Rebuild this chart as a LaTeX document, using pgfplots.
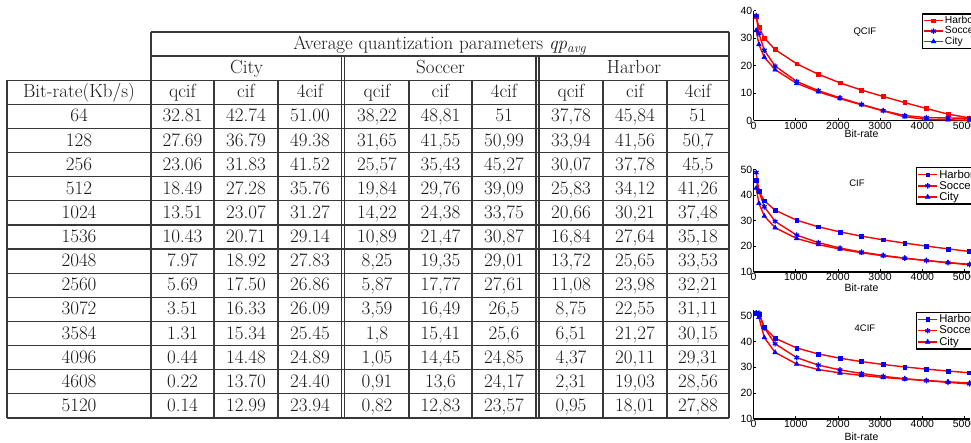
\documentclass[border=0pt]{standalone}
\usepackage{fontspec}
\usepackage{pgfplots}
\pgfplotsset{compat=1.18}
\newfontfamily\plotfont{Liberation Sans}
\newcounter{rk}
\newcommand\R[9]{\stepcounter{rk}\pgfmathsetmacro\yb{345.2-24.125*\the\value{rk}}%
 \node[tab] at (79,\yb) {#1};
 \node[tab] at (182.5,\yb) {#2};
 \node[tab] at (246,\yb) {#3};
 \node[tab] at (310,\yb) {#4};
 \node[tab] at (377,\yb) {#5};
 \node[tab] at (440.5,\yb) {#6};
 \node[tab] at (504,\yb) {#7};
 \node[tab] at (571,\yb) {#8};
 \node[tab] at (635,\yb) {#9};
 \Rx}
\newcommand\Rx[1]{\node[tab] at (698,\yb) {#1};}

\pgfplotsset{mini/.style={
  scale only axis, width=216.1pt, xmin=0, xmax=5120,
  axis lines*=left, axis line style={line width=1.1pt, black},
  tick align=inside, major tick length=2.5pt, tick style={line width=0.8pt, black},
  xtick={0,1000,...,5000}, clip=false,
  tick label style={font=\plotfont\fontsize{10.5}{10.5}\selectfont},
  /pgf/number format/assume math mode=true,
  /pgf/number format/set thousands separator={},
  scaled x ticks=false,
  xticklabel style={inner sep=1pt},
  yticklabel style={inner sep=1pt},
  xlabel={Bit-rate},
  legend cell align=left,
  legend image code/.code={\draw[mark repeat=2, mark phase=2, ##1] plot coordinates {(0pt,0pt) (9.5pt,0pt) (19pt,0pt)};},
 },
 ln/.style={red, line width=1.4pt},
 hb/.style={ln, mark=square*, mark size=1.9pt, mark options={solid, #1, fill=#1, line width=0.5pt}},
 sc/.style={ln, mark=asterisk, mark size=2.7pt, mark options={solid, blue, line width=1.2pt}},
 ct/.style={ln, mark=triangle*, mark size=2.7pt, mark options={solid, blue, fill=blue, line width=0.5pt}},
}

\begin{document}
\begin{tikzpicture}[x=1pt,y=1pt,
  tab/.style={anchor=base, inner sep=0pt, font=\fontsize{19}{22}\selectfont, text=black!90},
  tl/.style={line width=1.2pt, black!78}]
\useasboundingbox (0,0) rectangle (971,443);

% ---------- table ----------
\draw[tl] (151,411) -- (729,411);
\draw[tl] (151,386.9) -- (729,386.9);
\draw[tl] (7,362.8) -- (729,362.8);
\foreach \k in {0,...,13} {\draw[tl] (7,{338.7-24.125*\k}) -- (729,{338.7-24.125*\k});}
\draw[tl] (151,411) -- (151,25.1);
\draw[tl] (729,411) -- (729,25.1);
\draw[tl] (7,362.8) -- (7,25.1);
\foreach \x in {214,278,409,472,603,667} {\draw[tl] (\x,362.8) -- (\x,25.1);}
\foreach \x in {341.5,344.5,536,539} {\draw[tl] (\x,386.9) -- (\x,25.1);}

\node[tab] at (440,393.4) {Average quantization parameters \textit{qp}\textsubscript{\textit{avg}}};
\node[tab] at (246.5,369.3) {City};
\node[tab] at (440.5,369.3) {Soccer};
\node[tab] at (634,369.3) {Harbor};
\node[tab] at (79,345.2) {Bit-rate(Kb/s)};
\foreach \x/\t in {182.5/qcif,246/cif,310/4cif,377/qcif,440.5/cif,504/4cif,571/qcif,635/cif,698/4cif}
  {\node[tab] at (\x,345.2) {\t};}

\R{64}{32.81}{42.74}{51.00}{38,22}{48,81}{51}{37,78}{45,84}{51}
\R{128}{27.69}{36.79}{49.38}{31,65}{41,55}{50,99}{33,94}{41,56}{50,7}
\R{256}{23.06}{31.83}{41.52}{25,57}{35,43}{45,27}{30,07}{37,78}{45,5}
\R{512}{18.49}{27.28}{35.76}{19,84}{29,76}{39,09}{25,83}{34,12}{41,26}
\R{1024}{13.51}{23.07}{31.27}{14,22}{24,38}{33,75}{20,66}{30,21}{37,48}
\R{1536}{10.43}{20.71}{29.14}{10,89}{21,47}{30,87}{16,84}{27,64}{35,18}
\R{2048}{7.97}{18.92}{27.83}{8,25}{19,35}{29,01}{13,72}{25,65}{33,53}
\R{2560}{5.69}{17.50}{26.86}{5,87}{17,77}{27,61}{11,08}{23,98}{32,21}
\R{3072}{3.51}{16.33}{26.09}{3,59}{16,49}{26,5}{8,75}{22,55}{31,11}
\R{3584}{1.31}{15.34}{25.45}{1,8}{15,41}{25,6}{6,51}{21,27}{30,15}
\R{4096}{0.44}{14.48}{24.89}{1,05}{14,45}{24,85}{4,37}{20,11}{29,31}
\R{4608}{0.22}{13.70}{24.40}{0,91}{13,6}{24,17}{2,31}{19,03}{28,56}
\R{5120}{0.14}{12.99}{23.94}{0,82}{12,83}{23,57}{0,95}{18,01}{27,88}

% ---------- QCIF ----------
\begin{axis}[mini, at={(753.5pt,322.5pt)}, anchor=south west, height=109.8pt,
  ymin=0, ymax=40, ytick={0,10,...,40},
  xlabel style={font=\plotfont\fontsize{10.5}{10.5}\selectfont, at={(axis description cs:0.5,0)}, anchor=center, yshift=-13.5pt},
  legend style={at={(axis description cs:0.778,0.976)}, anchor=north west, draw=black, line width=1.4pt,
    font=\plotfont\fontsize{10.3}{10.3}\selectfont, inner sep=1pt, row sep=-0.8pt, nodes={inner sep=1.2pt}}]
\addplot[hb=red] coordinates {(64,37.78) (128,33.94) (256,30.07) (512,25.83) (1024,20.66) (1536,16.84) (2048,13.72) (2560,11.08) (3072,8.75) (3584,6.51) (4096,4.37) (4608,2.31) (5120,0.95)};
\addplot[sc] coordinates {(64,38.22) (128,31.65) (256,25.57) (512,19.84) (1024,14.22) (1536,10.89) (2048,8.25) (2560,5.87) (3072,3.59) (3584,1.8) (4096,1.05) (4608,0.91) (5120,0.82)};
\addplot[ct] coordinates {(64,32.81) (128,27.69) (256,23.06) (512,18.49) (1024,13.51) (1536,10.43) (2048,7.97) (2560,5.69) (3072,3.51) (3584,1.31) (4096,0.44) (4608,0.22) (5120,0.14)};
\legend{Harbor,Soccer,City}
\node[font=\plotfont\fontsize{9.5}{9.5}\selectfont] at (axis cs:2640,32.2) {QCIF};
\end{axis}

% ---------- CIF ----------
\begin{axis}[mini, at={(753.5pt,171pt)}, anchor=south west, height=102.5pt,
  ymin=10, ymax=50, ytick={10,20,...,50},
  xlabel style={font=\plotfont\fontsize{10.5}{10.5}\selectfont, at={(axis description cs:0.5,0)}, anchor=center, yshift=-15.5pt},
  legend style={at={(axis description cs:0.751,1.027)}, anchor=north west, draw=black, line width=1.4pt,
    font=\plotfont\fontsize{11.3}{11.3}\selectfont, inner sep=1pt, row sep=-1.2pt, nodes={inner sep=1.4pt}}]
\addplot[hb=blue] coordinates {(64,45.84) (128,41.56) (256,37.78) (512,34.12) (1024,30.21) (1536,27.64) (2048,25.65) (2560,23.98) (3072,22.55) (3584,21.27) (4096,20.11) (4608,19.03) (5120,18.01)};
\addplot[sc] coordinates {(64,48.81) (128,41.55) (256,35.43) (512,29.76) (1024,24.38) (1536,21.47) (2048,19.35) (2560,17.77) (3072,16.49) (3584,15.41) (4096,14.45) (4608,13.6) (5120,12.83)};
\addplot[ct] coordinates {(64,42.74) (128,36.79) (256,31.83) (512,27.28) (1024,23.07) (1536,20.71) (2048,18.92) (2560,17.50) (3072,16.33) (3584,15.34) (4096,14.48) (4608,13.70) (5120,12.99)};
\legend{Harbor,Soccer,City}
\node[font=\plotfont\fontsize{9.5}{9.5}\selectfont] at (axis cs:2450,44.8) {CIF};
\end{axis}

% ---------- 4CIF ----------
\begin{axis}[mini, at={(753.5pt,24pt)}, anchor=south west, height=108.5pt,
  ymin=10, ymax=52, ytick={10,20,...,50},
  xlabel style={font=\plotfont\fontsize{10.5}{10.5}\selectfont, at={(axis description cs:0.5,0)}, anchor=center, yshift=-17.5pt},
  legend style={at={(axis description cs:0.751,0.989)}, anchor=north west, draw=black, line width=1.4pt,
    font=\plotfont\fontsize{11.3}{11.3}\selectfont, inner sep=1pt, row sep=-1.2pt, nodes={inner sep=1.4pt}}]
\addplot[hb=blue] coordinates {(64,51) (128,50.7) (256,45.5) (512,41.26) (1024,37.48) (1536,35.18) (2048,33.53) (2560,32.21) (3072,31.11) (3584,30.15) (4096,29.31) (4608,28.56) (5120,27.88)};
\addplot[sc] coordinates {(64,51) (128,50.99) (256,45.27) (512,39.09) (1024,33.75) (1536,30.87) (2048,29.01) (2560,27.61) (3072,26.5) (3584,25.6) (4096,24.85) (4608,24.17) (5120,23.57)};
\addplot[ct] coordinates {(64,51.00) (128,49.38) (256,41.52) (512,35.76) (1024,31.27) (1536,29.14) (2048,27.83) (2560,26.86) (3072,26.09) (3584,25.45) (4096,24.89) (4608,24.40) (5120,23.94)};
\legend{Harbor,Soccer,City}
\node[font=\plotfont\fontsize{9.5}{9.5}\selectfont] at (axis cs:2640,45.3) {4CIF};
\end{axis}
\end{tikzpicture}
\end{document}
